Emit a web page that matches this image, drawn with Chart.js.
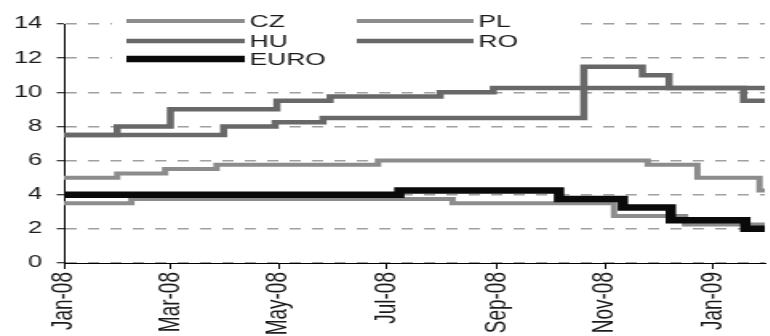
<!DOCTYPE html>
<html>
<head>
<meta charset="utf-8">
<script src="https://cdn.jsdelivr.net/npm/chart.js@4.4.1/dist/chart.umd.min.js"></script>
<style>
  html, body { margin: 0; padding: 0; background: #fff; overflow: hidden; }
  /* the source picture is a stretched Excel chart, so stretch ours the same way */
  #wrap { width: 481.25px; height: 336px; transform: scaleX(1.6); transform-origin: 0 0; }
</style>
</head>
<body>
<div id="wrap"><canvas id="rates-chart"></canvas></div>
<script>
const START = '2008-01-01'
const END = '2009-01-30'

const tickDates = ['2008-01-01', '2008-03-01', '2008-05-01', '2008-07-01', '2008-09-01', '2008-11-01', '2009-01-01']
const tickLabels = ['Jan-08', 'Mar-08', 'May-08', 'Jul-08', 'Sep-08', 'Nov-08', 'Jan-09']

// policy rates, each value holds from its date until the next one
const czDates = ['2008-01-01', '2008-02-08', '2008-08-07', '2008-11-06', '2008-12-16', END]
const czRates = [3.5, 3.75, 3.5, 2.75, 2.25, 2.25]

const plDates = ['2008-01-01', '2008-01-31', '2008-02-27', '2008-03-27', '2008-06-26', '2008-11-25', '2008-12-23', '2009-01-27', END]
const plRates = [5.0, 5.25, 5.5, 5.75, 6.0, 5.75, 5.0, 4.25, 4.25]

const huDates = ['2008-01-01', '2008-03-31', '2008-04-29', '2008-05-26', '2008-10-20', '2008-11-22', '2008-12-07', '2009-01-18', END]
const huRates = [7.5, 8.0, 8.25, 8.5, 11.5, 11.0, 10.25, 9.5, 9.5]

const roDates = ['2008-01-01', '2008-01-31', '2008-03-01', '2008-04-30', '2008-05-30', '2008-07-31', '2008-08-30', END]
const roRates = [7.5, 8.0, 9.0, 9.5, 9.75, 10.0, 10.25, 10.25]

const euroDates = ['2008-01-01', '2008-07-08', '2008-10-06', '2008-11-11', '2008-12-08', '2009-01-19', END]
const euroRates = [4.0, 4.25, 3.75, 3.25, 2.5, 2.0, 2.0]

const dayOf = s => (Date.parse(s) - Date.parse(START)) / 86400000
const toPoints = (dates, rates) => dates.map((d, i) => ({ x: dayOf(d), y: rates[i] }))

const LIGHT = '#8c8c8c'
const DARK = '#686868'
const FONT = '"Liberation Sans", Arial, sans-serif'

// legend sits inside the plot on a white box, 2 columns x 3 rows
const insideLegend = {
    id: 'insideLegend',
    beforeDatasetsDraw(chart) {
        const ctx = chart.ctx
        ctx.save()
        ctx.fillStyle = '#fff'
        ctx.fillRect(70, 0, 286, 70)
        const rowsY = [21, 41, 59]
        chart.data.datasets.forEach((ds, i) => {
            const col = i % 2
            const y = rowsY[Math.floor(i / 2)]
            const x0 = col ? 223 : 79
            const x1 = col ? 296 : 153
            ctx.strokeStyle = ds.borderColor
            ctx.lineWidth = ds.borderWidth
            ctx.lineCap = 'butt'
            ctx.beginPath()
            ctx.moveTo(x0, y)
            ctx.lineTo(x1, y)
            ctx.stroke()
            ctx.fillStyle = '#1a1a1a'
            ctx.font = '16.5px ' + FONT
            ctx.textBaseline = 'middle'
            ctx.fillText(ds.label, x1 + 3, y + 1)
        })
        ctx.restore()
    }
}

const data = {
    datasets: [
        { label: 'CZ', data: toPoints(czDates, czRates), borderColor: LIGHT, borderWidth: 4, order: 4 },
        { label: 'PL', data: toPoints(plDates, plRates), borderColor: LIGHT, borderWidth: 4, order: 3 },
        { label: 'HU', data: toPoints(huDates, huRates), borderColor: DARK, borderWidth: 4.5, order: 2 },
        { label: 'RO', data: toPoints(roDates, roRates), borderColor: DARK, borderWidth: 4.5, order: 1 },
        { label: 'EURO', data: toPoints(euroDates, euroRates), borderColor: '#0a0a0a', borderWidth: 6.5, order: 0 }
    ]
}

const config = {
    type: 'line',
    data: data,
    plugins: [insideLegend],
    options: {
        responsive: true,
        maintainAspectRatio: false,
        animation: false,
        layout: { padding: { top: 24, left: 0, right: 0, bottom: 0 } },
        elements: {
            point: { radius: 0 },
            line: { stepped: true, tension: 0, fill: false, borderCapStyle: 'butt', borderJoinStyle: 'miter' }
        },
        plugins: {
            legend: { display: false },
            tooltip: { enabled: false }
        },
        scales: {
            x: {
                type: 'linear',
                min: 0,
                max: dayOf(END),
                afterBuildTicks: scale => {
                    scale.ticks = tickDates.map(d => ({ value: dayOf(d) }))
                },
                afterFit: scale => { scale.height = 73 },
                grid: { drawOnChartArea: false, drawTicks: true, tickLength: 6, tickColor: '#000', tickWidth: 1 },
                border: { color: '#000', width: 1 },
                ticks: {
                    autoSkip: false,
                    minRotation: 90,
                    maxRotation: 90,
                    padding: 3,
                    color: '#1a1a1a',
                    font: { family: FONT, size: 19 },
                    callback: (value, index) => tickLabels[index]
                }
            },
            y: {
                min: 0,
                max: 14,
                afterFit: scale => { scale.width = 40 },
                grid: { color: '#a0a0a0', lineWidth: 1.5, drawOnChartArea: true, drawTicks: true, tickLength: 4.5, tickColor: '#000', tickWidth: 1, tickBorderDash: [] },
                border: { color: '#000', width: 1, dash: [7, 7] },
                ticks: {
                    stepSize: 2,
                    padding: 9,
                    color: '#1a1a1a',
                    font: { family: FONT, size: 16 }
                }
            }
        }
    }
}

new Chart(document.getElementById('rates-chart'), config)
</script>
</body>
</html>
